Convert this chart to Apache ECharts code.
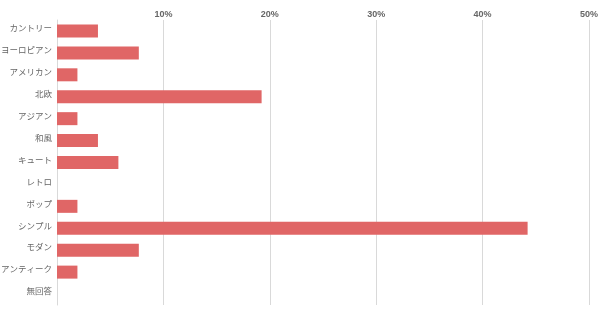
<!DOCTYPE html>
<html><head><meta charset="utf-8">
<script src="https://cdn.jsdelivr.net/npm/echarts@6/dist/echarts.min.js"></script>
<style>html,body{margin:0;padding:0;background:#fff}#c{width:600px;height:314px}</style>
</head><body><div id="c"></div>
<script>
const categories = ["カントリー","ヨーロピアン","アメリカン","北欧","アジアン","和風","キュート","レトロ","ポップ","シンプル","モダン","アンティーク","無回答"];
const values = [3.85,7.69,1.92,19.23,1.92,3.85,5.77,0,1.92,44.23,7.69,1.92,0];
const tickLabels = ["","10%","20%","30%","40%","50%"];

const chart = echarts.init(document.getElementById('c'), null, {renderer:'canvas'});
chart.setOption({
  animation:false,
  grid:{left:57,right:11,top:20,bottom:9,containLabel:false,outerBoundsMode:'none'},
  xAxis:{type:'value',position:'top',min:0,max:50,interval:10,
    axisLine:{show:false},axisTick:{show:false},
    axisLabel:{color:'#666',fontSize:9,fontWeight:'bold',fontFamily:'Liberation Sans, Arial',margin:1,
      formatter:(v)=>tickLabels[Math.round(v/10)]},
    splitLine:{lineStyle:{color:'#d9d9d9',width:1}}},
  yAxis:{type:'category',data:categories,inverse:true,
    axisLine:{show:true,lineStyle:{color:'#d9d9d9'}},axisTick:{show:false},
    axisLabel:{color:'#666',fontSize:8.5,fontFamily:'Noto Sans CJK JP',margin:5,verticalAlign:'bottom',lineHeight:6}},
  series:[{type:'bar',data:values,barWidth:13,itemStyle:{color:'#e06666'}}]
});
</script></body></html>
